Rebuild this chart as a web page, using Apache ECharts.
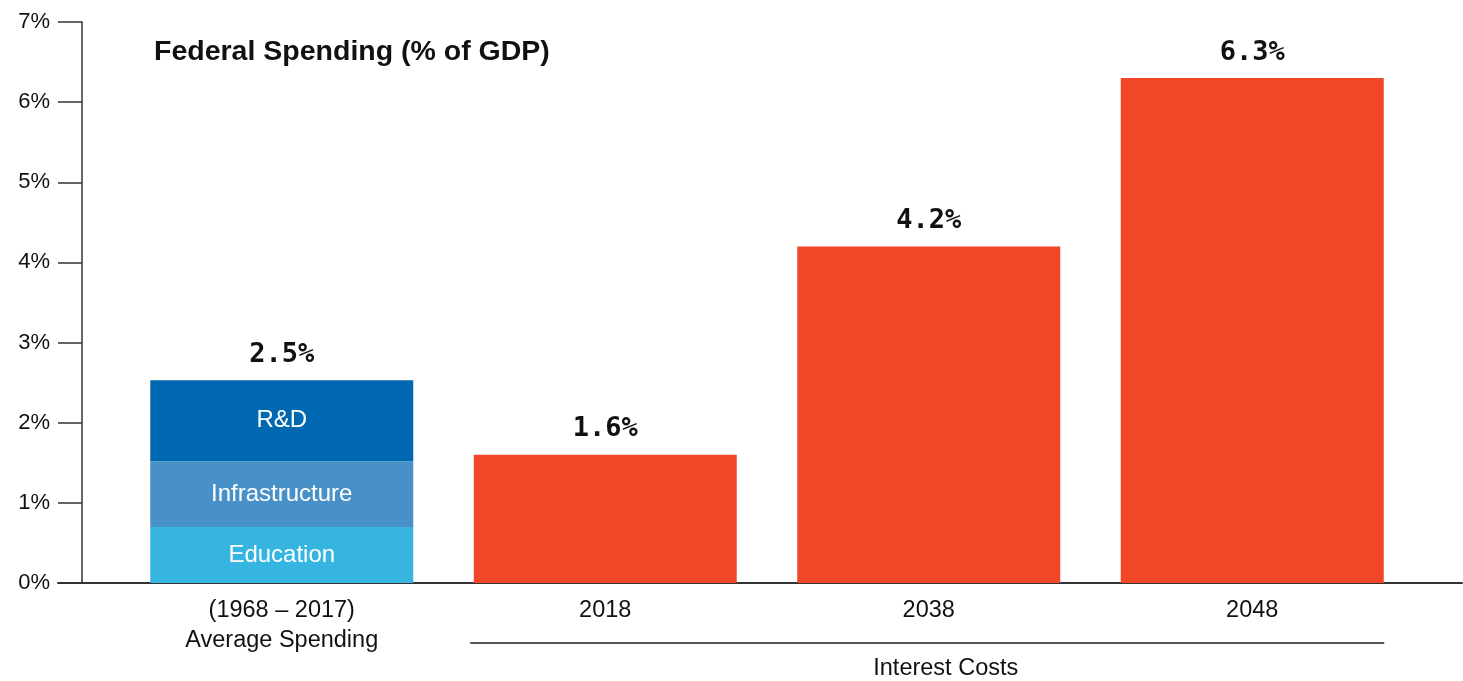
<!DOCTYPE html>
<html>
<head>
<meta charset="utf-8">
<script src="https://cdn.jsdelivr.net/npm/echarts@6/dist/echarts.min.js"></script>
<style>html,body{margin:0;padding:0;background:#fff}#c{width:1463px;height:681px}</style>
</head>
<body>
<div id="c"></div>
<script>
var categories = ['(1968 – 2017)\nAverage Spending', '2018', '2038', '2048'];
var education = [0.70, null, null, null];
var infrastructure = [0.82, null, null, null];
var rnd = [1.01, null, null, null];
var interest = [null, 1.6, 4.2, 6.3];
var totalLabels = ['2.5%', '1.6%', '4.2%', '6.3%'];
var yTicks = [0, 1, 2, 3, 4, 5, 6, 7];
var groupLabel = 'Interest Costs';
var titleText = 'Federal Spending (% of GDP)';

var FONT = '"Liberation Sans", Arial, sans-serif';
var valueLabel = {
  show: true, position: 'top', distance: 12,
  fontFamily: '"DejaVu Sans Mono", "Liberation Mono", monospace',
  fontWeight: 'bold', fontSize: 27, color: '#111',
  formatter: function (p) { return totalLabels[p.dataIndex]; }
};
var insideLabel = function (name) {
  return { show: true, position: 'inside', color: '#fff', fontFamily: FONT, fontSize: 24,
    formatter: function () { return name; } };
};

var chart = echarts.init(document.getElementById('c'), null, {renderer: 'canvas'});
var option = {
  animation: false,
  backgroundColor: '#fff',
  title: {
    text: titleText, left: 149, top: 33,
    textStyle: {fontFamily: FONT, fontWeight: 'bold', fontSize: 28.5, color: '#111'}
  },
  grid: [
    {left: 120, right: 49, top: 22, bottom: 98},
    {left: 58, right: 1, top: 22, bottom: 98}
  ],
  xAxis: [
    {
      type: 'category', data: categories, gridIndex: 0,
      axisLine: {show: false}, axisTick: {show: false},
      axisLabel: {fontFamily: FONT, fontSize: 23.5, color: '#111', margin: 13, lineHeight: 30}
    },
    {
      type: 'value', gridIndex: 1, min: 0, max: 1,
      axisLine: {show: true, lineStyle: {color: '#333', width: 2}},
      axisTick: {show: false}, axisLabel: {show: false}, splitLine: {show: false}
    }
  ],
  yAxis: [
    {
      type: 'value', gridIndex: 0, min: yTicks[0], max: yTicks[yTicks.length - 1], interval: 1,
      offset: 38,
      axisLine: {show: true, lineStyle: {color: '#333', width: 1.5}},
      axisTick: {show: true, length: 24, lineStyle: {color: '#333', width: 1.5}},
      axisLabel: {formatter: '{value}%', fontFamily: FONT, fontSize: 22, color: '#111', margin: 32},
      splitLine: {show: false}
    },
    {type: 'value', gridIndex: 1, min: 0, max: 1, show: false}
  ],
  series: [
    {name: 'Education', type: 'bar', stack: 's', data: education, barWidth: 263,
      itemStyle: {color: '#36b5e1'}, label: insideLabel('Education')},
    {name: 'Infrastructure', type: 'bar', stack: 's', data: infrastructure, barWidth: 263,
      itemStyle: {color: '#4891c8'}, label: insideLabel('Infrastructure')},
    {name: 'R&D', type: 'bar', stack: 's', data: rnd, barWidth: 263,
      itemStyle: {color: '#0068b0'}, label: insideLabel('R&D')},
    {name: 'Interest', type: 'bar', stack: 's', data: interest, barWidth: 263,
      itemStyle: {color: '#ef4727'}, label: valueLabel}
  ]
};
chart.setOption(option);

// total label for the stacked bar via an invisible overlay series
var rndTotal = rnd.map(function (v, i) {
  return v == null ? null : education[i] + infrastructure[i] + v;
});
chart.setOption({
  series: option.series.concat([{
    name: 'total', type: 'bar', data: rndTotal, barWidth: 263, barGap: '-100%',
    itemStyle: {color: 'rgba(0,0,0,0)'}, label: valueLabel, z: 1, silent: true
  }])
});

// bracket under the interest-cost categories
var c1 = chart.convertToPixel({xAxisIndex: 0}, categories[1]);
var c3 = chart.convertToPixel({xAxisIndex: 0}, categories[3]);
var baseY = chart.convertToPixel({yAxisIndex: 0}, 0);
chart.setOption({
  graphic: [
    {type: 'line', shape: {x1: c1 - 135, y1: baseY + 60, x2: c3 + 132, y2: baseY + 60},
      style: {stroke: '#555', lineWidth: 2}},
    {type: 'text', x: (c1 + c3) / 2 + 17, y: baseY + 86,
      style: {text: groupLabel, fontFamily: FONT, fontSize: 23.5, fill: '#111', align: 'center', verticalAlign: 'middle'}}
  ]
});
</script>
</body>
</html>
